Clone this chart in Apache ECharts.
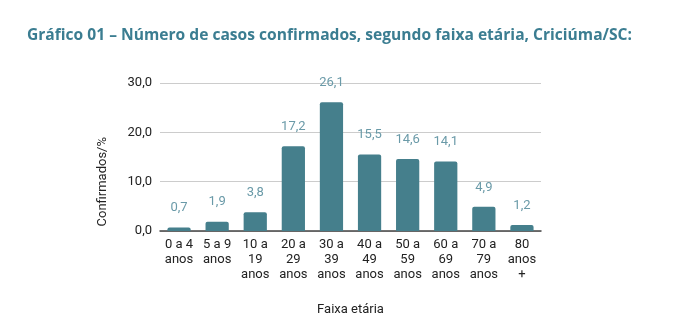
<!DOCTYPE html>
<html><head><meta charset="utf-8">
<script src="https://cdn.jsdelivr.net/npm/echarts@6/dist/echarts.min.js"></script>
<style>html,body{margin:0;padding:0;background:#fff}#c{width:690px;height:327px}</style>
</head><body><div id="c"></div>
<script>
const categories = ["0 a 4\nanos","5 a 9\nanos","10 a\n19\nanos","20 a\n29\nanos","30 a\n39\nanos","40 a\n49\nanos","50 a\n59\nanos","60 a\n69\nanos","70 a\n79\nanos","80\nanos\n+"];
const values = [0.7,1.9,3.8,17.2,26.1,15.5,14.6,14.1,4.9,1.2];
const yTicks = [0,10,20,30];
const title = "Gráfico 01 – Número de casos confirmados, segundo faixa etária, Criciúma/SC:";
const fmt = v => v.toFixed(1).replace('.', ',');
const chart = echarts.init(document.getElementById('c'));
chart.setOption({
  animation:false,
  title:{text:title,left:22,top:23,textStyle:{fontFamily:'Open Sans',fontWeight:'bold',fontSize:15.6,color:'#3b7d91'}},
  grid:{left:160,right:149,top:83,bottom:96},
  graphic:[{type:'text',left:96,top:137,rotation:Math.PI/2,style:{text:'Confirmados/%',font:'13px Roboto',fill:'#222'}}],
  xAxis:{type:'category',data:categories,name:'Faixa etária',nameLocation:'middle',nameGap:72,
    nameTextStyle:{fontFamily:'Roboto',fontSize:13,color:'#222'},
    axisTick:{show:false},axisLine:{lineStyle:{color:'#444',width:1.5}},
    axisLabel:{fontFamily:'Roboto',fontSize:13,color:'#222',lineHeight:15,margin:6,interval:0}},
  yAxis:{type:'value',min:yTicks[0],max:yTicks[yTicks.length-1],interval:10,
    axisLabel:{fontFamily:'Roboto',fontSize:13,color:'#222',formatter:fmt,margin:8},
    splitLine:{lineStyle:{color:'#ccc'}},axisLine:{show:false},axisTick:{show:false}},
  series:[{type:'bar',data:values,barWidth:'61%',itemStyle:{color:'#457f8c',borderRadius:[2,2,0,0]},
    label:{show:true,position:'top',distance:13,formatter:p=>fmt(p.value),fontFamily:'Roboto',fontSize:13,color:'#6a9aa8'}}]
});
</script></body></html>
